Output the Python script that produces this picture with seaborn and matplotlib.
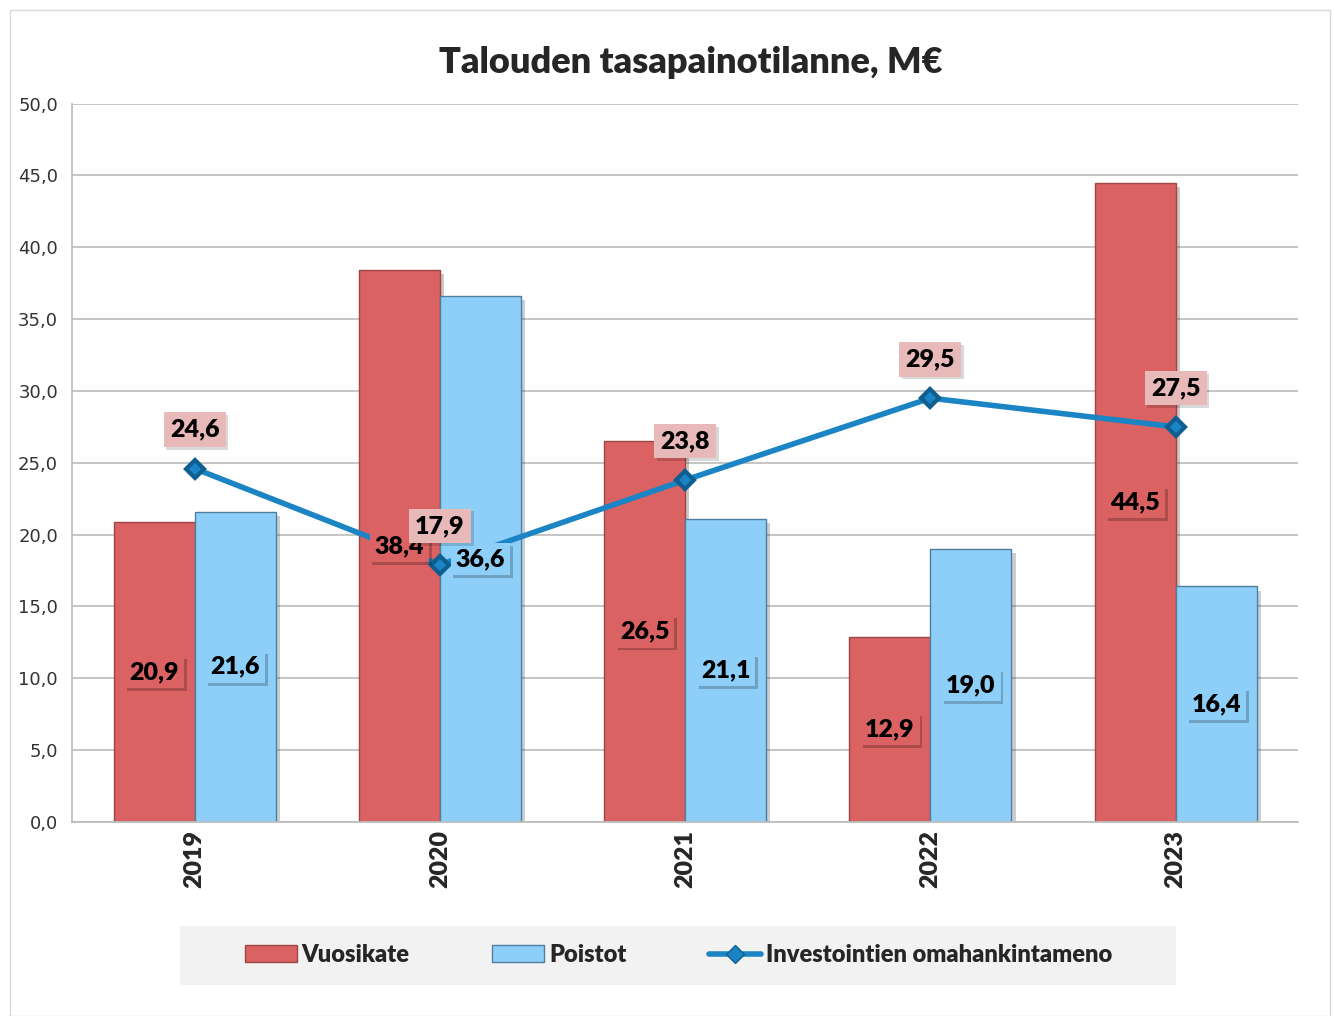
import matplotlib
matplotlib.use("Agg")
import matplotlib.pyplot as plt
import matplotlib.patches as mpatches
import matplotlib.patheffects as pe
from matplotlib.lines import Line2D
import seaborn as sns
import pandas as pd

years = ["2019", "2020", "2021", "2022", "2023"]
vuosikate = [20.9, 38.4, 26.5, 12.9, 44.5]
poistot = [21.6, 36.6, 21.1, 19.0, 16.4]
investoinnit = [24.6, 17.9, 23.8, 29.5, 27.5]
yticks = [0, 5, 10, 15, 20, 25, 30, 35, 40, 45, 50]

RED = "#DA6262"
BLUE = "#8ECFF9"
LINE = "#1B84C4"
LBL_PINK = "#E8B9B9"

sns.set_theme(style="white")
plt.rcParams["font.family"] = ["Lato", "DejaVu Sans"]

df = pd.DataFrame({
    "Vuosi": years * 2,
    "Arvo": vuosikate + poistot,
    "Sarja": ["Vuosikate"] * 5 + ["Poistot"] * 5,
})

fig = plt.figure(figsize=(13.33, 10.16), dpi=100)
ax = fig.add_axes([0.054, 0.191, 0.92, 0.707])

sns.barplot(data=df, x="Vuosi", y="Arvo", hue="Sarja", order=years,
            hue_order=["Vuosikate", "Poistot"],
            palette={"Vuosikate": RED, "Poistot": BLUE}, saturation=1,
            width=0.66, gap=0, linewidth=1.0,
            legend=False, ax=ax, zorder=2)
for i, p in enumerate(ax.patches):
    p.set_edgecolor("#9E4545" if i < 5 else "#4E7F9E")
    p.set_path_effects([pe.SimplePatchShadow(offset=(3, -3), alpha=0.25), pe.Normal()])

sns.pointplot(x=years, y=investoinnit, order=years, color=LINE, markers="D",
              markersize=9, linewidth=4, ax=ax, zorder=4)
for ln in ax.lines:
    ln.set_markerfacecolor(LINE)
    ln.set_markeredgecolor("#0E5E90")

box_shadow = [pe.SimplePatchShadow(offset=(2, -2), shadow_rgbFace="black", alpha=0.22), pe.Normal()]
bars = list(ax.patches)
for i, p in enumerate(bars):
    val = p.get_height()
    fc = RED if i < 5 else BLUE
    t = ax.text(p.get_x() + p.get_width() / 2, val / 2, f"{val:.1f}".replace(".", ","),
                ha="center", va="center", fontsize=18, fontweight="heavy", color="black",
                bbox=dict(boxstyle="square,pad=0.2", facecolor=fc, edgecolor="none"),
                zorder=6)
    t.get_bbox_patch().set_path_effects(box_shadow)

for i, v in enumerate(investoinnit):
    t = ax.annotate(f"{v:.1f}".replace(".", ","), (i, v), xytext=(0, 28),
                    textcoords="offset points", ha="center", va="center",
                    fontsize=18, fontweight="heavy", color="black",
                    bbox=dict(boxstyle="square,pad=0.25", facecolor=LBL_PINK, edgecolor="none"),
                    zorder=7)
    t.get_bbox_patch().set_path_effects(
        [pe.SimplePatchShadow(offset=(2, -2), shadow_rgbFace="black", alpha=0.15), pe.Normal()])

ax.set_ylim(0, 50)
ax.set_xlim(-0.5, 4.5)
ax.set_yticks(yticks)
ax.set_yticklabels([f"{t:.1f}".replace(".", ",") for t in yticks],
                   fontsize=13, family="DejaVu Sans", color="#333333")
ax.set_xticks(range(5))
ax.set_xticklabels(years, rotation=90, fontsize=18, fontweight="heavy")
ax.set_xlabel("")
ax.set_ylabel("")
ax.grid(axis="y", color="#C0C0C0", linewidth=1.3, zorder=0)
ax.set_axisbelow(True)
for s in ["top", "right"]:
    ax.spines[s].set_visible(False)
for s in ["left", "bottom"]:
    ax.spines[s].set_color("#BDBDBD")
    ax.spines[s].set_linewidth(1.3)
ax.tick_params(axis="y", length=6, color="#BDBDBD", width=1.3, pad=4)
ax.tick_params(axis="x", length=0, pad=6)

fig.suptitle("Talouden tasapainotilanne, M€", x=0.518, y=0.955, fontsize=26,
             fontweight="heavy")

fig.patches.append(mpatches.Rectangle((0.0075, 0.0), 0.99, 0.99, transform=fig.transFigure,
                                      fill=False, edgecolor="#D9D9D9", linewidth=1))
fig.patches.append(mpatches.Rectangle((180 / 1333, 1 - 985 / 1016), (1176 - 180) / 1333,
                                      59 / 1016, transform=fig.transFigure,
                                      facecolor="#F2F2F2", edgecolor="none", zorder=0))
handles = [
    mpatches.Patch(facecolor=RED, edgecolor="#9E4545", label="Vuosikate"),
    mpatches.Patch(facecolor=BLUE, edgecolor="#4E7F9E", label="Poistot"),
    Line2D([0], [0], color=LINE, linewidth=4, marker="D", markersize=9,
           markeredgecolor="#0E5E90", label="Investointien omahankintameno"),
]
fig.legend(handles=handles, loc="center", bbox_to_anchor=(0.509, 1 - 955 / 1016),
           ncol=3, frameon=False, prop={"weight": "heavy", "size": 17},
           handlelength=2.2, handletextpad=0.2, columnspacing=3.5)

fig.savefig("out.png", dpi=100)
